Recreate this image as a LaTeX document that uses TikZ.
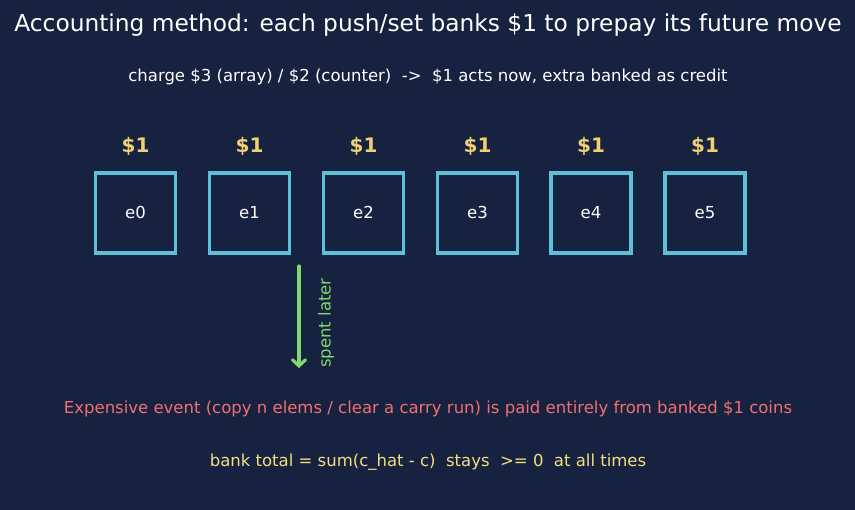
\documentclass[tikz,border=0pt]{standalone}
\usepackage{fontspec}
\setmainfont{DejaVu Sans}
\usetikzlibrary{arrows.meta}
\definecolor{bg}{HTML}{172240}
\definecolor{cellc}{HTML}{5BC0D8}
\definecolor{coin}{HTML}{F0D070}
\definecolor{greenc}{HTML}{80D870}
\definecolor{redc}{HTML}{F07070}
\definecolor{yelc}{HTML}{F0E080}
\begin{document}
\begin{tikzpicture}[x=1pt,y=-1pt,
  cell/.style={draw=cellc,line width=3.5pt,minimum width=80pt,minimum height=80pt,inner sep=0pt,text=white,font=\fontsize{16.5}{20}\selectfont,text height=12pt,text depth=0pt},
  coinlbl/.style={text=coin,font=\bfseries\fontsize{20}{24}\selectfont},
  txt/.style={font=\fontsize{16.5}{20}\selectfont},
  every node/.style={inner sep=0pt}]
\fill[bg] (0,0) rectangle (855,510);
\useasboundingbox (0,0) rectangle (855,510);
\node[text=white,font=\fontsize{23.3}{28}\selectfont] (title) at (428,25.5) {Accounting method: each push/set banks \$1 to prepay its future move};
\node[text=white,txt] (sub) at (428,76.5) {charge \$3 (array) / \$2 (counter)\ \ ->\ \ \$1 acts now, extra banked as credit};
\foreach \i/\x in {0/135.5,1/249.5,2/363.5,3/477.5,4/591,5/705} {
  \node[cell] (e\i) at (\x,213) {e\i};
  \node[coinlbl] (c\i) at (\x,146) {\$1};
}
\coordinate (a0) at (299,266);
\coordinate (a1) at (299,368);
\draw[greenc,line width=3.2pt,line cap=round,-{Straight Barb[length=6pt,width=13pt,line cap=round]}] (a0) -- (a1);
\node[text=greenc,rotate=90,txt] (lbl) at (326,323) {spent later};
\node[text=redc,txt] (exp) at (428,408.5) {Expensive event (copy n elems / clear a carry run) is paid entirely from banked \$1 coins};
\node[text=yelc,txt] (bank) at (428,462.5) {bank total = sum(c\_hat - c)\ \ stays\ \ >= 0\ \ at all times};
\end{tikzpicture}
\end{document}
